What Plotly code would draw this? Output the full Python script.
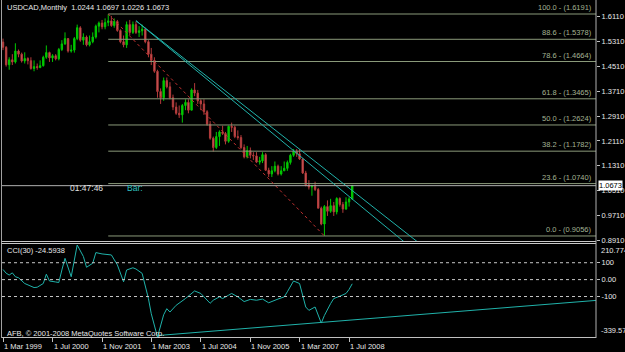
import plotly.graph_objects as go
import pandas as pd

# ---------------- data ----------------
bar_months = pd.date_range("1999-03-01", "2008-08-01", freq="MS")

open_ = [1.5290, 1.5120, 1.4560, 1.4720, 1.4650, 1.5000, 1.4900, 1.4680, 1.4760, 1.4690,
         1.4440, 1.4500, 1.4470, 1.4530, 1.4800, 1.4950, 1.4780, 1.4850, 1.4750, 1.5050, 1.5230, 1.5400,
         1.5000, 1.5030, 1.5400, 1.5750, 1.5350, 1.5450, 1.5200, 1.5300, 1.5450, 1.5800, 1.5900, 1.5780,
         1.5920, 1.5970, 1.5820, 1.5950, 1.5660, 1.5300, 1.5200, 1.5850, 1.5600, 1.5850, 1.5600, 1.5650,
         1.5700, 1.5300, 1.4900, 1.4700, 1.4350, 1.3700, 1.3500, 1.4050, 1.3850, 1.3500, 1.3200, 1.3000,
         1.2950, 1.3250, 1.3350, 1.3100, 1.3750, 1.3650, 1.3400, 1.3300, 1.3050, 1.2650, 1.2200, 1.1900,
         1.2250, 1.2400, 1.2350, 1.2100, 1.2580, 1.2550, 1.2250, 1.2220, 1.1900, 1.1600, 1.1800, 1.1650,
         1.1630, 1.1430, 1.1470, 1.1670, 1.1170, 1.1050, 1.1150, 1.1300, 1.1050, 1.1150, 1.1230, 1.1420,
         1.1650, 1.1780, 1.1700, 1.1530, 1.1080, 1.0700, 1.0630, 1.0650, 1.0550, 0.9950, 0.9440, 1.0000,
         0.9850, 1.0030, 0.9830, 1.0260, 1.0070, 0.9920, 1.0150, 1.0244]
high = [1.5400, 1.5160, 1.4800, 1.4900, 1.5250, 1.5050, 1.4950, 1.4960, 1.4800, 1.4800,
        1.4700, 1.4600, 1.4700, 1.4850, 1.5180, 1.4980, 1.4900, 1.4900, 1.5100, 1.5350, 1.5600, 1.5420,
        1.5200, 1.5450, 1.5850, 1.5800, 1.5570, 1.5500, 1.5500, 1.5600, 1.5850, 1.5950, 1.6000, 1.6050,
        1.6191, 1.6130, 1.6050, 1.6000, 1.5700, 1.5500, 1.5950, 1.6000, 1.5950, 1.5950, 1.5800, 1.5850,
        1.5750, 1.5350, 1.5100, 1.4800, 1.4400, 1.3800, 1.4150, 1.4150, 1.4000, 1.3600, 1.3350, 1.3250,
        1.3300, 1.3450, 1.3450, 1.3800, 1.3970, 1.3750, 1.3450, 1.3450, 1.3100, 1.2750, 1.2250, 1.2400,
        1.2450, 1.2600, 1.2400, 1.2600, 1.2700, 1.2600, 1.2450, 1.2300, 1.2000, 1.1950, 1.1900, 1.1750,
        1.1750, 1.1600, 1.1750, 1.1720, 1.1250, 1.1300, 1.1450, 1.1350, 1.1300, 1.1450, 1.1480, 1.1700,
        1.1850, 1.1850, 1.1850, 1.1550, 1.1150, 1.0850, 1.0700, 1.0800, 1.0600, 1.0000, 1.0050, 1.0200,
        1.0250, 1.0150, 1.0300, 1.0300, 1.0150, 1.0300, 1.0300, 1.0697]
low = [1.5030, 1.4500, 1.4400, 1.4550, 1.4600, 1.4800, 1.4630, 1.4600, 1.4570, 1.4400,
       1.4350, 1.4400, 1.4450, 1.4500, 1.4750, 1.4650, 1.4650, 1.4700, 1.4700, 1.5000, 1.5200, 1.4950,
       1.4950, 1.4950, 1.5350, 1.5300, 1.5200, 1.5150, 1.5150, 1.5250, 1.5400, 1.5600, 1.5700, 1.5700,
       1.5800, 1.5780, 1.5750, 1.5620, 1.5250, 1.5120, 1.5100, 1.5500, 1.5550, 1.5550, 1.5450, 1.5500,
       1.5250, 1.4800, 1.4550, 1.4300, 1.3500, 1.3300, 1.3400, 1.3800, 1.3450, 1.3100, 1.2950, 1.2850,
       1.2700, 1.3100, 1.3000, 1.3100, 1.3550, 1.3300, 1.3100, 1.2950, 1.2600, 1.2150, 1.1770, 1.1850,
       1.1950, 1.2300, 1.2000, 1.2050, 1.2400, 1.2200, 1.2150, 1.1850, 1.1550, 1.1550, 1.1550, 1.1500,
       1.1400, 1.1350, 1.1400, 1.1150, 1.0950, 1.0950, 1.1100, 1.1000, 1.1000, 1.1150, 1.1150, 1.1350,
       1.1600, 1.1600, 1.1500, 1.1050, 1.0650, 1.0550, 1.0350, 1.0500, 0.9950, 0.9400, 0.9056, 0.9700,
       0.9800, 0.9700, 0.9750, 1.0000, 0.9800, 0.9900, 1.0000, 1.0226]
close = [1.5120, 1.4560, 1.4720, 1.4650, 1.5000, 1.4900, 1.4680, 1.4760, 1.4690, 1.4440,
         1.4500, 1.4470, 1.4530, 1.4800, 1.4950, 1.4780, 1.4850, 1.4750, 1.5050, 1.5230, 1.5400, 1.5000,
         1.5030, 1.5400, 1.5750, 1.5350, 1.5450, 1.5200, 1.5300, 1.5450, 1.5800, 1.5900, 1.5780, 1.5920,
         1.5970, 1.5820, 1.5950, 1.5660, 1.5300, 1.5200, 1.5850, 1.5600, 1.5850, 1.5600, 1.5650, 1.5700,
         1.5300, 1.4900, 1.4700, 1.4350, 1.3700, 1.3500, 1.4050, 1.3850, 1.3500, 1.3200, 1.3000, 1.2950,
         1.3250, 1.3350, 1.3100, 1.3750, 1.3650, 1.3400, 1.3300, 1.3050, 1.2650, 1.2200, 1.1900, 1.2250,
         1.2400, 1.2350, 1.2100, 1.2580, 1.2550, 1.2250, 1.2220, 1.1900, 1.1600, 1.1800, 1.1650, 1.1630,
         1.1430, 1.1470, 1.1670, 1.1170, 1.1050, 1.1150, 1.1300, 1.1050, 1.1150, 1.1230, 1.1420, 1.1650,
         1.1780, 1.1700, 1.1530, 1.1080, 1.0700, 1.0630, 1.0650, 1.0550, 0.9950, 0.9440, 1.0000, 0.9850,
         1.0030, 0.9830, 1.0260, 1.0070, 0.9920, 1.0150, 1.0244, 1.0673]

cci_months = ["1999-03-01", "1999-04-01", "1999-05-01", "1999-06-01", "1999-07-01", "1999-08-01",
              "1999-10-01", "2000-01-01", "2000-02-01", "2000-04-01", "2000-05-01", "2000-06-01",
              "2000-08-01", "2000-09-01", "2000-10-01", "2000-11-01", "2001-01-01", "2001-03-01",
              "2001-05-01", "2001-06-01", "2001-08-01", "2001-09-01", "2001-11-01", "2002-01-01",
              "2002-02-01", "2002-04-01", "2002-06-01", "2002-07-01", "2002-09-01", "2002-10-01",
              "2002-12-01", "2003-02-01", "2003-03-01", "2003-05-01", "2003-07-01", "2003-08-01",
              "2003-09-01", "2003-11-01", "2004-02-01", "2004-05-01", "2004-07-01", "2004-10-01",
              "2004-11-01", "2005-01-01", "2005-02-01", "2005-04-01", "2005-05-01", "2005-07-01",
              "2005-09-01", "2005-11-01", "2006-01-01", "2006-03-01", "2006-05-01", "2006-08-01",
              "2006-10-01", "2006-11-01", "2007-01-01", "2007-03-01", "2007-04-01", "2007-05-01",
              "2007-06-01", "2007-08-01", "2007-10-01", "2007-11-01", "2008-01-01", "2008-02-01",
              "2008-04-01", "2008-06-01", "2008-07-01", "2008-08-01"]
cci_values = [60, 38, 27, 40, 17, 11,
              -23, -47, -45, -23, 32, -8,
              -14, -17, 57, 126, 17, 205,
              137, 73, 97, 160, 152, 146,
              146, 87, -13, 57, 70, 63,
              37, -112, -202, -339.57, -208, -172,
              -192, -152, -112, -67, -82, -140,
              -122, -102, -112, -92, -82, -102,
              -130, -117, -122, -115, -137, -115,
              -102, -72, -8, -23, -92, -162,
              -182, -162, -257, -212, -142, -112,
              -98, -82, -58, -24.5938]

cci_levels = [100, 0, -100]
cci_max, cci_min = 210.774, -339.570

fib_pct = ["0.0", "23.6", "38.2", "50.0", "61.8", "78.6", "88.6", "100.0"]
fib_price = [0.9056, 1.0740, 1.1782, 1.2624, 1.3465, 1.4664, 1.5378, 1.6191]
fib_anchor_dates = ["2002-01-01", "2007-11-01"]
fib_anchor_prices = [1.6191, 0.9056]

chan_a_dates = ["2002-10-01", "2010-06-01"]
chan_a_prices = [1.5976, 0.8444]
chan_b_dates = ["2002-10-01", "2010-06-01"]
chan_b_prices = [1.5976, 0.8801]

cci_trend_dates = ["2003-05-01", "2015-03-01"]
cci_trend_values = [-331, -123]

price_ticks = [1.6110, 1.5310, 1.4510, 1.3710, 1.2910, 1.2110, 1.1310, 1.0510, 0.9710, 0.8910]
x_tick_dates = ["1999-03-01", "2000-07-01", "2001-11-01", "2003-03-01",
                "2004-07-01", "2005-11-01", "2007-03-01", "2008-07-01"]
x_tick_labels = ["1 Mar 1999", "1 Jul 2000", "1 Nov 2001", "1 Mar 2003",
                 "1 Jul 2004", "1 Nov 2005", "1 Mar 2007", "1 Jul 2008"]

bid = close[-1]

# ---------------- layout helpers ----------------
W, H = 625, 352
def pxp(x):
    return x / W
def pyp(y):
    return 1 - y / H

PX_PER_DAY = 3.089 / 30.437
origin = pd.Timestamp("1999-03-01")
def x_to_date(px):
    return origin + pd.Timedelta(days=(px - 3) / PX_PER_DAY)
xrange = [x_to_date(2), x_to_date(596)]

FONT = "Liberation Sans, Arial, sans-serif"
TXT = "#e8e8e8"
FIB_LINE = "#8a9a7a"
FIB_TXT = "#a4b494"
TEAL = "#20b2aa"

fig = go.Figure()

fig.add_trace(go.Candlestick(
    x=bar_months, open=open_, high=high, low=low, close=close,
    increasing=dict(line=dict(color="#00c800", width=1), fillcolor="#00c800"),
    decreasing=dict(line=dict(color="#b23a3a", width=1), fillcolor="#d46a6a"),
    xaxis="x", yaxis="y", showlegend=False, hoverinfo="skip"))

for p in fib_price:
    fig.add_trace(go.Scatter(x=[fib_anchor_dates[0], xrange[1]], y=[p, p], mode="lines",
                             line=dict(color=FIB_LINE, width=1), xaxis="x", yaxis="y",
                             showlegend=False, hoverinfo="skip"))

fig.add_trace(go.Scatter(x=fib_anchor_dates, y=fib_anchor_prices, mode="lines",
                         line=dict(color="#c03030", width=1, dash="dot"),
                         xaxis="x", yaxis="y", showlegend=False, hoverinfo="skip"))

for d, p in ((chan_a_dates, chan_a_prices), (chan_b_dates, chan_b_prices)):
    fig.add_trace(go.Scatter(x=d, y=p, mode="lines", line=dict(color=TEAL, width=1),
                             xaxis="x", yaxis="y", showlegend=False, hoverinfo="skip"))

fig.add_trace(go.Scatter(x=cci_months, y=cci_values, mode="lines",
                         line=dict(color=TEAL, width=1), xaxis="x", yaxis="y2",
                         showlegend=False, hoverinfo="skip"))
fig.add_trace(go.Scatter(x=cci_trend_dates, y=cci_trend_values, mode="lines",
                         line=dict(color=TEAL, width=1), xaxis="x", yaxis="y2",
                         showlegend=False, hoverinfo="skip"))

shapes = []
for lv in cci_levels:
    shapes.append(dict(type="line", xref="paper", yref="y2", x0=pxp(2), x1=pxp(596), y0=lv, y1=lv,
                       line=dict(color="#c8c8c8", width=1, dash="3px,3px")))
shapes.append(dict(type="line", xref="paper", yref="y", x0=pxp(2), x1=pxp(596), y0=bid, y1=bid,
                   line=dict(color="#b0b0b0", width=1)))
shapes.append(dict(type="line", xref="paper", yref="paper", x0=pxp(1.5), x1=pxp(1.5),
                   y0=pyp(0), y1=pyp(338), line=dict(color="#a0a0a0", width=1)))
shapes.append(dict(type="line", xref="paper", yref="paper", x0=pxp(1.5), x1=pxp(596),
                   y0=pyp(241.5), y1=pyp(241.5), line=dict(color="#c8c8c8", width=1)))
shapes.append(dict(type="line", xref="paper", yref="paper", x0=pxp(1.5), x1=pxp(596),
                   y0=pyp(243.5), y1=pyp(243.5), line=dict(color="#c8c8c8", width=1)))
shapes.append(dict(type="line", xref="paper", yref="paper", x0=pxp(596), x1=pxp(596),
                   y0=pyp(0), y1=pyp(338), line=dict(color="#b0b0b0", width=1)))

ann = []
def txt(x, y, s, color=TXT, size=7.5, xanchor="left", yanchor="middle", **kw):
    d = dict(x=x, y=y, text=s, showarrow=False, xanchor=xanchor, yanchor=yanchor,
             font=dict(family=FONT, size=size, color=color))
    d.setdefault("xref", "paper")
    d.setdefault("yref", "paper")
    d.update(kw)
    ann.append(d)

title = "USDCAD,Monthly\u00a0\u00a0" + " ".join(f"{v:.4f}" for v in (open_[-1], high[-1], low[-1], close[-1]))
txt(pxp(5), pyp(8), title)
txt(pxp(5), pyp(251), f"CCI(30) {cci_values[-1]:.4f}")
txt(pxp(5), pyp(333), "AFB, © 2001-2008 MetaQuotes Software Corp.")
txt(pxp(68), pyp(188), "01:47:46", color="#e0e0e0", size=8.5)
txt(pxp(125), pyp(188), "Bar:", color="#30c0c0", size=8.5)

for pct, p in zip(fib_pct, fib_price):
    txt(pxp(594), p, f"{pct} - ({p:.4f})", color=FIB_TXT, xanchor="right", yanchor="bottom",
        yref="y")

txt(pxp(597.5), bid, f"{bid:.4f}", color="#000000", yref="y", bgcolor="#ffffff", borderpad=0)
txt(pxp(599), cci_max, f"{cci_max:.3f}", yref="y2", yanchor="top")
txt(pxp(599), cci_min, f"{cci_min:.3f}", yref="y2", yanchor="bottom")

for d, lab in zip(x_tick_dates, x_tick_labels):
    txt(d, pyp(340), lab, xref="x", yanchor="top", xanchor="left", xshift=-1)

axis_common = dict(showgrid=False, zeroline=False, fixedrange=True)

fig.update_layout(
    width=W, height=H, autosize=False, margin=dict(l=0, r=0, t=0, b=0, pad=0),
    paper_bgcolor="#000000", plot_bgcolor="#000000",
    showlegend=False, hovermode=False,
    xaxis=dict(domain=[pxp(2), pxp(596)], anchor="y2", type="date", range=xrange,
               showline=True, linecolor="#c0c0c0", ticks="outside", ticklen=4,
               tickcolor="#c0c0c0", tickvals=x_tick_dates, showticklabels=False,
               automargin=False, rangeslider=dict(visible=False), **axis_common),
    yaxis=dict(domain=[pyp(241), pyp(1)], anchor="x", side="right",
               range=[0.88943, 1.66089], tickvals=price_ticks,
               ticktext=[f"{v:.4f}" for v in price_ticks],
               tickfont=dict(family=FONT, size=7.5, color=TXT),
               ticks="outside", ticklen=3, tickcolor="#c0c0c0", automargin=False,
               showline=False, **axis_common),
    yaxis2=dict(domain=[pyp(337), pyp(244)], anchor="x", side="right",
                range=[cci_min, cci_max], tickvals=cci_levels,
                ticktext=["100", "0.00", "-100"],
                tickfont=dict(family=FONT, size=7.5, color=TXT),
                ticks="outside", ticklen=3, tickcolor="#c0c0c0", automargin=False,
                showline=False, **axis_common),
    shapes=shapes, annotations=ann,
)

fig.write_html("out.html", config={"displayModeBar": False, "staticPlot": True,
                                   "responsive": False})
